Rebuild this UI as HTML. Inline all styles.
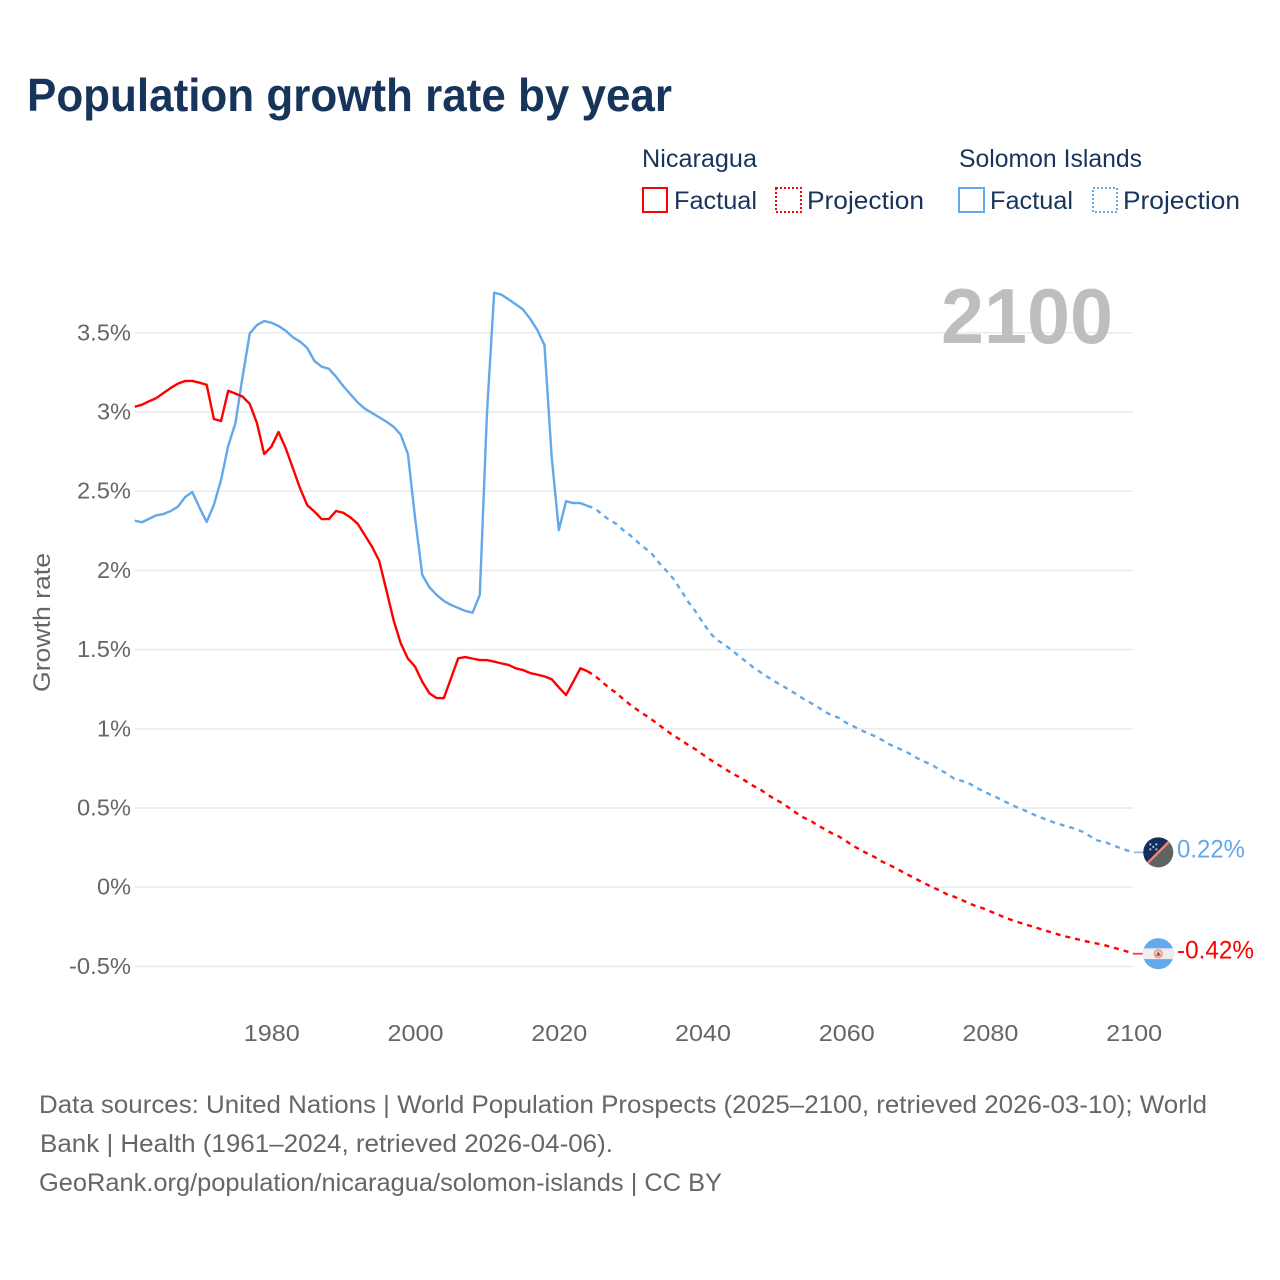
<!DOCTYPE html>
<html lang="en">
<head>
<meta charset="utf-8">
<title>Population growth rate by year</title>
<style>
html,body{margin:0;padding:0;background:#fff;}
svg{display:block;font-family:"Liberation Sans",Arial,sans-serif;}
</style>
</head>
<body>
<svg id="chart" width="1280" height="1280" viewBox="0 0 1280 1280" xmlns="http://www.w3.org/2000/svg">
<defs>
<clipPath id="flag-clip-a"><circle cx="0" cy="0" r="15"></circle></clipPath>
<clipPath id="flag-clip-b"><circle cx="0" cy="0" r="15.5"></circle></clipPath>
</defs>
<rect x="0" y="0" width="1280" height="1280" fill="#ffffff"></rect>
<text x="27" y="111" font-size="46" font-weight="700" fill="#17345a" textLength="645" lengthAdjust="spacingAndGlyphs">Population growth rate by year</text>

<g font-size="25" fill="#17345a">
<text x="642" y="167" textLength="115" lengthAdjust="spacingAndGlyphs">Nicaragua</text>
<text x="959" y="167" textLength="183" lengthAdjust="spacingAndGlyphs">Solomon Islands</text>
<rect x="643" y="188" width="24" height="24" fill="none" stroke="#ff0000" stroke-width="2"></rect>
<text x="674" y="209" textLength="83" lengthAdjust="spacingAndGlyphs">Factual</text>
<rect x="776" y="188" width="25" height="24" fill="none" stroke="#ff0000" stroke-width="2" stroke-dasharray="2 2"></rect>
<text x="807" y="209" textLength="117" lengthAdjust="spacingAndGlyphs">Projection</text>
<rect x="959" y="188" width="25" height="24" fill="none" stroke="#62a8ea" stroke-width="2"></rect>
<text x="990" y="209" textLength="83" lengthAdjust="spacingAndGlyphs">Factual</text>
<rect x="1093" y="188" width="24" height="24" fill="none" stroke="#62a8ea" stroke-width="2" stroke-dasharray="2 2"></rect>
<text x="1123" y="209" textLength="117" lengthAdjust="spacingAndGlyphs">Projection</text>
</g>

<g id="grid"></g>
<g id="y-ticks" font-size="23" fill="#666666" text-anchor="end"></g>
<g id="x-ticks" font-size="23" fill="#666666" text-anchor="middle"></g>
<text transform="translate(50,692) rotate(-90)" font-size="24" fill="#666666" textLength="139" lengthAdjust="spacingAndGlyphs">Growth rate</text>
<text x="941" y="343" font-size="78" font-weight="700" fill="#bcbec0" textLength="172" lengthAdjust="spacingAndGlyphs">2100</text>

<g id="series"></g>

<g id="flag-solomon" clip-path="url(#flag-clip-a)">
<rect x="-16" y="-16" width="32" height="32" fill="#5f6462"></rect>
<polygon points="-16,-16 16,-16 -16,16" fill="#14305a"></polygon>
<line x1="-15" y1="15" x2="15" y2="-15" stroke="#ff7f6e" stroke-width="2.4"></line>
<g fill="#a8c8ec">
<circle cx="-8" cy="-8" r="1.1"></circle><circle cx="-2" cy="-8" r="1.1"></circle><circle cx="-5" cy="-5.5" r="1.1"></circle><circle cx="-8" cy="-3" r="1.1"></circle><circle cx="-2" cy="-3" r="1.1"></circle>
</g>
</g>
<g id="flag-nicaragua" clip-path="url(#flag-clip-b)">
<rect x="-16" y="-16" width="32" height="32" fill="#64a9ec"></rect>
<rect x="-16" y="-5.4" width="32" height="10.8" fill="#eeeeee"></rect>
<circle cx="0" cy="0" r="4" fill="#f4c8be" stroke="#ff8a78" stroke-width="1.2"></circle>
<polygon points="0,-2.2 2.4,2 -2.4,2" fill="#5a6a80"></polygon>
</g>
<text id="value-solomon" x="1177" font-size="25" fill="#62a8ea" textLength="68" lengthAdjust="spacingAndGlyphs"></text>
<text id="value-nicaragua" x="1177" font-size="25" fill="#ff0000" textLength="77" lengthAdjust="spacingAndGlyphs"></text>

<g font-size="25" fill="#666666">
<text x="39" y="1113" textLength="1168" lengthAdjust="spacingAndGlyphs">Data sources: United Nations | World Population Prospects (2025–2100, retrieved 2026-03-10); World</text>
<text x="40" y="1152" textLength="573" lengthAdjust="spacingAndGlyphs">Bank | Health (1961–2024, retrieved 2026-04-06).</text>
<text x="39" y="1191" textLength="683" lengthAdjust="spacingAndGlyphs">GeoRank.org/population/nicaragua/solomon-islands | CC BY</text>
</g>
</svg>
<script>
const FACTUAL_START_YEAR = 1961;
const PROJECTION_START_YEAR = 2024;
const yTickValues = [-0.5, 0, 0.5, 1, 1.5, 2, 2.5, 3, 3.5];
const yTickLabels = ["-0.5%", "0%", "0.5%", "1%", "1.5%", "2%", "2.5%", "3%", "3.5%"];
const xTickLabels = [1980, 2000, 2020, 2040, 2060, 2080, 2100];

const nicaraguaFactual = [3.033,3.046,3.068,3.088,3.120,3.152,3.179,3.196,3.196,3.185,3.172,2.956,2.943,3.134,3.116,3.097,3.051,2.929,2.735,2.781,2.874,2.771,2.645,2.518,2.411,2.371,2.324,2.324,2.375,2.364,2.335,2.295,2.223,2.150,2.061,1.876,1.687,1.540,1.443,1.392,1.297,1.224,1.194,1.194,1.319,1.445,1.453,1.443,1.434,1.434,1.424,1.413,1.403,1.382,1.371,1.352,1.342,1.331,1.313,1.262,1.213,1.297,1.382,1.363];
const nicaraguaProjection = [1.363,1.335,1.297,1.258,1.226,1.186,1.150,1.117,1.087,1.056,1.022,0.988,0.956,0.929,0.898,0.871,0.839,0.807,0.778,0.751,0.721,0.698,0.670,0.641,0.618,0.586,0.557,0.533,0.502,0.470,0.441,0.420,0.391,0.366,0.340,0.319,0.290,0.260,0.235,0.211,0.189,0.161,0.140,0.117,0.092,0.069,0.045,0.022,-0.001,-0.020,-0.045,-0.060,-0.079,-0.100,-0.119,-0.133,-0.152,-0.171,-0.190,-0.207,-0.222,-0.237,-0.249,-0.264,-0.278,-0.291,-0.306,-0.316,-0.327,-0.338,-0.348,-0.357,-0.367,-0.379,-0.392,-0.405,-0.42];
const solomonFactual = [2.314,2.304,2.326,2.348,2.356,2.375,2.402,2.463,2.495,2.396,2.306,2.413,2.571,2.787,2.929,3.224,3.497,3.549,3.574,3.564,3.543,3.513,3.472,3.444,3.404,3.322,3.286,3.273,3.223,3.164,3.112,3.061,3.021,2.994,2.967,2.939,2.907,2.857,2.735,2.331,1.971,1.893,1.845,1.807,1.782,1.763,1.744,1.733,1.845,2.992,3.753,3.741,3.711,3.680,3.648,3.589,3.518,3.423,2.718,2.255,2.436,2.425,2.425,2.407];
const solomonProjection = [2.407,2.392,2.354,2.320,2.293,2.253,2.219,2.177,2.140,2.102,2.045,1.996,1.944,1.874,1.802,1.742,1.674,1.607,1.561,1.533,1.499,1.461,1.426,1.390,1.359,1.329,1.300,1.275,1.247,1.220,1.190,1.165,1.138,1.108,1.085,1.068,1.037,1.016,0.992,0.972,0.953,0.929,0.902,0.881,0.862,0.839,0.811,0.790,0.770,0.742,0.717,0.685,0.672,0.658,0.631,0.607,0.586,0.565,0.542,0.519,0.500,0.481,0.460,0.441,0.424,0.407,0.393,0.380,0.366,0.348,0.319,0.294,0.285,0.266,0.249,0.233,0.22];

const SVG_NS = "http://www.w3.org/2000/svg";
const RED = "#ff0000";
const BLUE = "#62a8ea";

function xScale(year) { return 134.8 + (year - 1961) * 7.187; }
function yScale(value) { return 887.2 - value * 158.4; }
function labelWidth(text) {
  let w = 0;
  for (const ch of String(text)) {
    if (ch === "%") w += 20;
    else if (ch === ".") w += 6;
    else if (ch === "-") w += 8;
    else w += 14;
  }
  return w;
}
function linePath(startYear, values) {
  return values.map(function (v, i) {
    return (i ? "L" : "M") + xScale(startYear + i).toFixed(2) + " " + yScale(v).toFixed(2);
  }).join(" ");
}

const gridGroup = document.getElementById("grid");
const yTickGroup = document.getElementById("y-ticks");
yTickValues.forEach(function (v, i) {
  const y = yScale(v);
  const line = document.createElementNS(SVG_NS, "line");
  
  
  line.setAttribute("x1", 135);
  line.setAttribute("x2", 1133);
  line.setAttribute("y1", y);
  line.setAttribute("y2", y);
  line.setAttribute("stroke", "#e8e8e8");
  line.setAttribute("stroke-width", "1.4");
  gridGroup.appendChild(line);
  const label = document.createElementNS(SVG_NS, "text");
  
  
  label.setAttribute("x", 131);
  label.setAttribute("y", y + 7.5);
  label.setAttribute("textLength", labelWidth(yTickLabels[i]));
  label.setAttribute("lengthAdjust", "spacingAndGlyphs");
  label.textContent = yTickLabels[i];
  yTickGroup.appendChild(label);
});

const xTickGroup = document.getElementById("x-ticks");
xTickLabels.forEach(function (year) {
  const label = document.createElementNS(SVG_NS, "text");
  
  
  label.setAttribute("x", xScale(year) + 0.4);
  label.setAttribute("y", 1041);
  label.setAttribute("textLength", labelWidth(year));
  label.setAttribute("lengthAdjust", "spacingAndGlyphs");
  label.textContent = year;
  xTickGroup.appendChild(label);
});

const seriesGroup = document.getElementById("series");
function addLine(values, startYear, color, dashed) {
  const path = document.createElementNS(SVG_NS, "path");
  
  
  path.setAttribute("d", linePath(startYear, values));
  path.setAttribute("fill", "none");
  path.setAttribute("stroke", color);
  path.setAttribute("stroke-width", "2.4");
  path.setAttribute("stroke-linejoin", "round");
  if (dashed) path.setAttribute("stroke-dasharray", "5 5");
  seriesGroup.appendChild(path);
}
addLine(solomonFactual, FACTUAL_START_YEAR, BLUE, false);
addLine(solomonProjection, PROJECTION_START_YEAR, BLUE, true);
addLine(nicaraguaFactual, FACTUAL_START_YEAR, RED, false);
addLine(nicaraguaProjection, PROJECTION_START_YEAR, RED, true);

function addEnd(values, color, flagId, valueId) {
  const last = values[values.length - 1];
  const y = yScale(last);
  const tail = document.createElementNS(SVG_NS, "line");
  
  
  tail.setAttribute("x1", xScale(2100));
  tail.setAttribute("x2", 1144);
  tail.setAttribute("y1", y);
  tail.setAttribute("y2", y);
  tail.setAttribute("stroke", color);
  tail.setAttribute("stroke-width", "1.8");
  tail.setAttribute("stroke-opacity", "0.75");
  seriesGroup.appendChild(tail);
  document.getElementById(flagId).setAttribute("transform", "translate(1158.3," + y.toFixed(2) + ")");
  const label = document.getElementById(valueId);
  label.setAttribute("y", y + 5);
  label.textContent = last.toFixed(2) + "%";
}
addEnd(solomonProjection, BLUE, "flag-solomon", "value-solomon");
addEnd(nicaraguaProjection, RED, "flag-nicaragua", "value-nicaragua");
</script>
</body>
</html>
